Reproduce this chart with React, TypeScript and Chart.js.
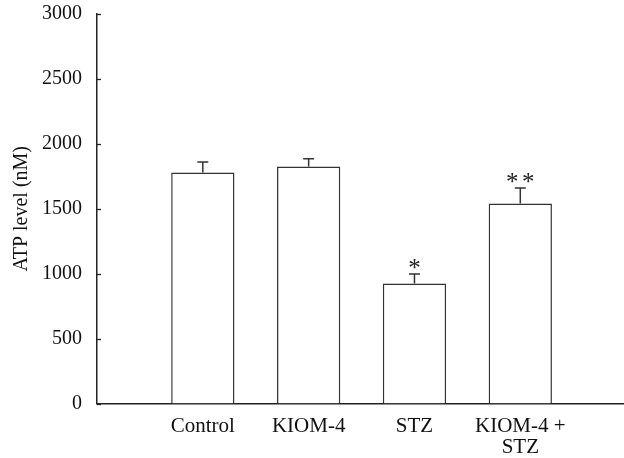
import React, { useEffect, useRef } from "react";
import { Chart, registerables } from "chart.js";

Chart.register(...registerables);

const categories: (string | string[])[] = ["Control", "KIOM-4", "STZ", ["KIOM-4 +", "STZ"]];
const atpMeans = [1780, 1825, 925, 1540];
const atpErrors = [80, 60, 72, 120];
const significance = ["", "", "*", "**"];
const yTicks = [0, 500, 1000, 1500, 2000, 2500, 3000];

const FONT = "'Liberation Serif', 'Times New Roman', serif";
const INK = "#222";

const decorPlugin = {
  id: "decor",
  afterDatasetsDraw(chart: any) {
    const ctx = chart.ctx;
    const x = chart.scales.x;
    const y = chart.scales.y;
    ctx.save();
    ctx.strokeStyle = INK;
    ctx.lineWidth = 1.3;
    yTicks.forEach((v) => {
      const py = Math.round(y.getPixelForValue(v)) + 0.5;
      ctx.beginPath();
      ctx.moveTo(x.left, py);
      ctx.lineTo(x.left + 4, py);
      ctx.stroke();
    });
    atpMeans.forEach((m, i) => {
      const px = x.getPixelForValue(i + 1);
      const top = y.getPixelForValue(m);
      const capY = y.getPixelForValue(m + atpErrors[i]);
      ctx.strokeStyle = "#333";
      ctx.lineWidth = 1.5;
      ctx.beginPath();
      ctx.moveTo(px, top);
      ctx.lineTo(px, capY);
      ctx.moveTo(px - 5.5, capY);
      ctx.lineTo(px + 5.5, capY);
      ctx.stroke();
      const s = significance[i];
      if (s) {
        ctx.fillStyle = INK;
        ctx.font = `25px ${FONT}`;
        ctx.textAlign = "center";
        ctx.textBaseline = "middle";
        const n = s.length;
        for (let k = 0; k < n; k++) {
          const ox = (k - (n - 1) / 2) * 16;
          ctx.fillText("*", px + ox, capY - 5);
        }
      }
    });
    ctx.restore();
  },
};

export default function App() {
  const ref = useRef<HTMLCanvasElement | null>(null);
  useEffect(() => {
    document.body.style.margin = "0";
    const chart = new Chart(ref.current as HTMLCanvasElement, {
      type: "bar",
      data: {
        datasets: [
          {
            data: atpMeans.map((v, i) => ({ x: i + 1, y: v })),
            backgroundColor: "#ffffff",
            borderColor: "#333",
            borderWidth: 1.5,
            barPercentage: 0.61,
            categoryPercentage: 1,
          },
        ],
      },
      options: {
        responsive: false,
        animation: false,
        layout: { padding: { top: 14, left: 0, right: 0, bottom: 0 } },
        plugins: { legend: { display: false }, tooltip: { enabled: false } },
        scales: {
          x: {
            type: "linear",
            offset: false,
            min: 0,
            max: 4.98,
            grid: { display: false, tickLength: 0 },
            border: { display: true, color: INK, width: 1.5 },
            afterFit: (s: any) => {
              s.height = 54.5;
              s.paddingLeft = 0;
              s.paddingRight = 0;
            },
            ticks: {
              stepSize: 1,
              autoSkip: false,
              maxRotation: 0,
              padding: 12,
              color: "#111",
              font: { family: FONT, size: 21, lineHeight: 1.0 },
              callback: (v: any) => {
                const n = Number(v);
                return Number.isInteger(n) && n >= 1 && n <= categories.length
                  ? (categories[n - 1] as any)
                  : "";
              },
            },
          },
          y: {
            min: 0,
            max: 3000,
            grid: { display: false, tickLength: 0 },
            border: { display: true, color: INK, width: 1.5 },
            afterFit: (s: any) => {
              s.width = 97;
              s.paddingTop = 0;
              s.paddingBottom = 0;
            },
            ticks: {
              stepSize: 500,
              padding: 15,
              color: "#111",
              font: { family: FONT, size: 20 },
              callback: (v: any) => String(v),
            },
            title: {
              display: true,
              text: "ATP level (nM)",
              color: "#111",
              font: { family: FONT, size: 20 },
              padding: { top: 10, bottom: 4 },
            },
          },
        },
      },
      plugins: [decorPlugin],
    } as any);
    return () => chart.destroy();
  }, []);
  return (
    <div style={{ position: "fixed", left: 0, top: 0, width: 624, height: 458, background: "#fff" }}>
      <canvas ref={ref} width={624} height={458} />
    </div>
  );
}
